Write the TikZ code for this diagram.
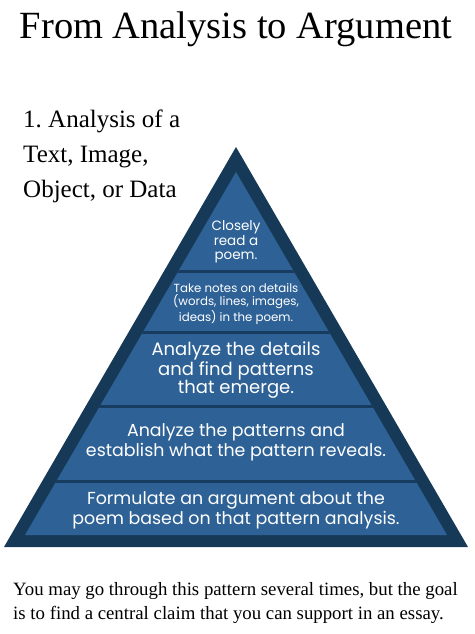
\documentclass[tikz,border=0pt]{standalone}
\usepackage{fontspec}
\setmainfont{Liberation Serif}
\newfontfamily\bandfont{Poppins}
\usetikzlibrary{positioning}
\definecolor{pyrdark}{RGB}{23,57,88}
\definecolor{pyrblue}{RGB}{46,98,150}
\definecolor{pyrline}{RGB}{24,60,96}
\frenchspacing

\begin{document}
\begin{tikzpicture}[x=1pt,y=-1pt,
  bandtext/.style={text=white,align=center,inner sep=0pt},
  sidetext/.style={align=left,inner sep=0pt,anchor=base west}]
\useasboundingbox (0,0) rectangle (474,634);

% Title
\node[inner sep=0pt,anchor=base,font=\fontsize{38.5}{40}\selectfont] (title) at (236,38) {From Analysis to Argument};

% Step heading on the left (placed by its last line)
\node[sidetext,font=\fontsize{25}{35}\selectfont] (steps) at (23,197) {1. Analysis of a\\Text, Image,\\Object, or Data};

% Pyramid
\fill[pyrdark] (236,147) -- (468,547) -- (4,547) -- cycle;
\begin{scope}
\clip (236,172) -- (447,535) -- (25,535) -- cycle;
\fill[pyrblue] (0,150) rectangle (474,540);
\foreach \y in {271,332,406,481}
  \draw[pyrline,line width=3pt] (0,\y) -- (474,\y);
\end{scope}

% Band texts
\node[bandtext,font=\bandfont\fontsize{13.5}{14.5}\selectfont] (band1) at (236,242) {Closely\\read a\\poem.};
\node[bandtext,font=\bandfont\fontsize{11.8}{13}\selectfont] (band2) at (236,304) {Take notes on details\\(words, lines, images,\\ideas) in the poem.};
\node[bandtext,font=\bandfont\fontsize{18}{18}\selectfont] (band3) at (236,370) {Analyze the details\\and find patterns\\that emerge.};
\node[bandtext,font=\bandfont\fontsize{17.4}{20}\selectfont] (band4) at (236,442) {Analyze the patterns and\\establish what the pattern reveals.};
\node[bandtext,font=\bandfont\fontsize{17.4}{20}\selectfont] (band5) at (236,510) {Formulate an argument about the\\poem based on that pattern analysis.};

% Note below (placed by its last line)
\node[sidetext,font=\fontsize{18.8}{24}\selectfont] (note) at (13,619) {You may go through this pattern several times, but the goal\\is to find a central claim that you can support in an essay.};
\end{tikzpicture}
\end{document}
